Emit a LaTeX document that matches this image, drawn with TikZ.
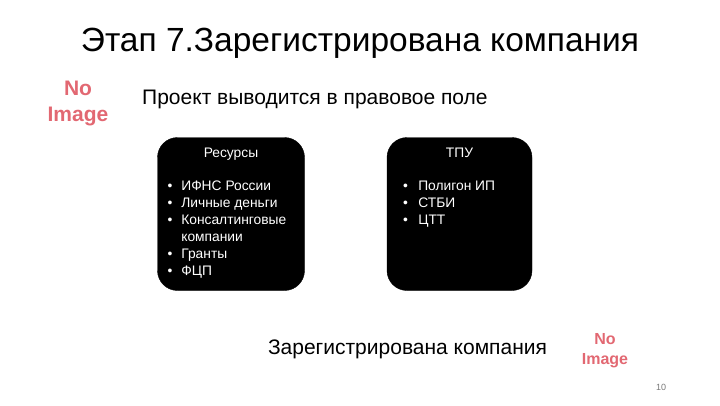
\documentclass[tikz,border=0pt]{standalone}
\usepackage{fontspec}
\setmainfont{Liberation Sans}
\usetikzlibrary{positioning}

\definecolor{noimg}{RGB}{226,104,114}
\definecolor{pagegray}{RGB}{120,120,120}

\begin{document}
\begin{tikzpicture}[
x=1pt,y=-1pt,
plain/.style={
  inner sep=0pt,
  font=\fontsize{21}{25}\selectfont
  },
block/.style={
  draw=black,
  fill=black,
  rounded corners=20pt,
  minimum width=147pt,
  minimum height=153pt
  },
head/.style={
  inner sep=0pt,
  text=white,
  font=\fontsize{13.8}{17}\selectfont
  },
items/.style={
  inner sep=0pt,
  text=white,
  align=left,
  font=\fontsize{13.8}{17}\selectfont
  },
missing/.style={
  inner sep=0pt,
  text=noimg,
  align=center,
  font=\bfseries
  }
]
\useasboundingbox (0,0) rectangle (720,405);

% title, picture placeholder and stage text
\node[plain,font=\fontsize{33.5}{40}\selectfont] (title) at (360,43) {Этап 7.Зарегистрирована компания};
\node[missing,font=\bfseries\fontsize{21}{26}\selectfont] (pic1) at (78,103) {No\\Image};
\node[plain,anchor=west] (stage) at (142,99) {Проект выводится в правовое поле};

% the two black blocks
\node[block] (res) at (231,214) {};
\node[block,minimum width=145pt] (tpu) at (459.5,214) {};
\node[head,below=11pt of res.north] (reshead) {Ресурсы};
\node[head,below=11pt of tpu.north] (tpuhead) {ТПУ};

\node[items,anchor=north west] (reslist) at ([shift={(10,41)}]res.north west) {%
\begin{tabular}{@{}l@{\hspace{9pt}}l@{}}
\textbullet & ИФНС России\\
\textbullet & Личные деньги\\
\textbullet & Консалтинговые\\
 & компании\\
\textbullet & Гранты\\
\textbullet & ФЦП
\end{tabular}};
\node[items,anchor=north west] (tpulist) at ([shift={(16,41)}]tpu.north west) {%
\begin{tabular}{@{}l@{\hspace{10.5pt}}l@{}}
\textbullet & Полигон ИП\\
\textbullet & СТБИ\\
\textbullet & ЦТТ
\end{tabular}};

% result
\node[plain] (regco) at (407.5,349) {Зарегистрирована компания};
\node[missing,font=\bfseries\fontsize{16}{20}\selectfont] (pic2) at (605,351) {No\\Image};
\node[plain,text=pagegray,font=\fontsize{9}{11}\selectfont] (pagenum) at (661,387) {10};

\end{tikzpicture}
\end{document}
